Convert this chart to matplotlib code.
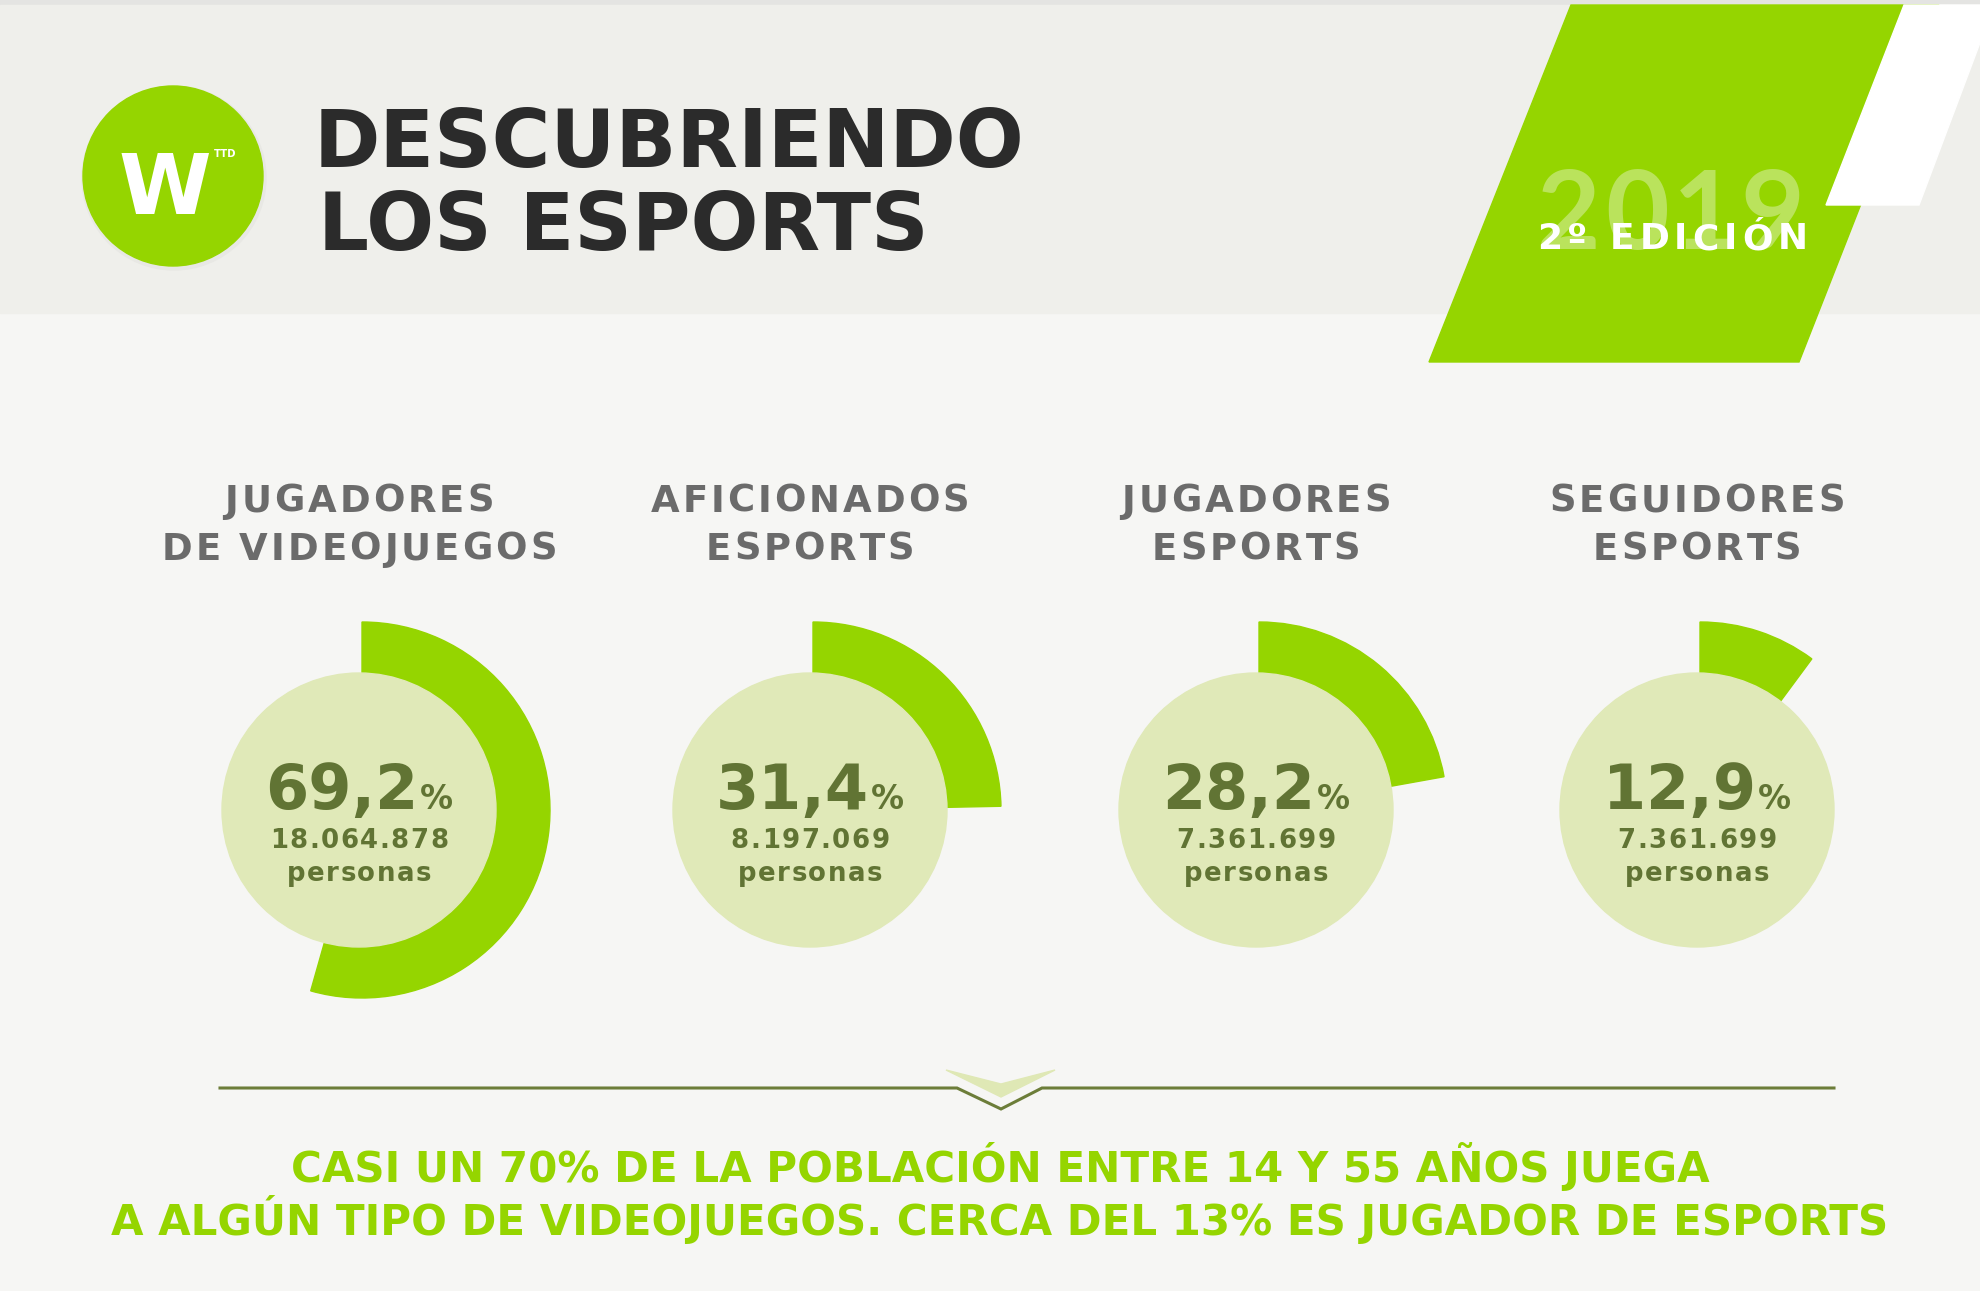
import matplotlib
matplotlib.use("Agg")
import matplotlib.pyplot as plt
from matplotlib.patches import Circle, Wedge, Polygon, Rectangle
from matplotlib.font_manager import FontProperties, findfont
from matplotlib.ft2font import FT2Font

# --- data -------------------------------------------------------------
titles = [["JUGADORES", "DE VIDEOJUEGOS"],
          ["AFICIONADOS", "ESPORTS"],
          ["JUGADORES", "ESPORTS"],
          ["SEGUIDORES", "ESPORTS"]]
percent = [69.2, 31.4, 28.2, 12.9]
people = [18064878, 8197069, 7361699, 7361699]
headline = ["CASI UN 70% DE LA POBLACIÓN ENTRE 14 Y 55 AÑOS JUEGA",
            "A ALGÚN TIPO DE VIDEOJUEGOS. CERCA DEL 13% ES JUGADOR DE ESPORTS"]
year = "2019"
edition = "2º EDICIÓN"

# the design draws 100% as ~283 degrees of arc
DEG_PER_PCT = 2.83

# --- colours ----------------------------------------------------------
GREEN = "#95d500"
PALE = "#e0e9b8"
OLIVE = "#617434"
BG = "#f6f6f4"
HEAD_BG = "#efefeb"

W, H, DPI = 1981, 1291, 100
PX = 72 / DPI  # points per pixel

fig = plt.figure(figsize=(W / DPI, H / DPI), dpi=DPI, facecolor=BG)
ax = fig.add_axes([0, 0, 1, 1])
ax.set_xlim(0, W)
ax.set_ylim(H, 0)
ax.axis("off")


def text_width(s, size_pt, family="DejaVu Sans", weight="bold"):
    f = FT2Font(findfont(FontProperties(family=family, weight=weight)))
    f.set_size(size_pt, 72)
    w = 0
    for ch in s:
        g = f.load_char(ord(ch))
        w += g.linearHoriAdvance / 65536
    return w / PX


def tracked(x, y, s, size_pt, track, color, ha="center",
            family="DejaVu Sans", weight="bold", **kw):
    widths = [text_width(ch, size_pt, family, weight) for ch in s]
    total = sum(widths) + track * (len(s) - 1)
    x0 = x - total / 2 if ha == "center" else x
    for ch, w in zip(s, widths):
        ax.text(x0 + w / 2, y, ch, ha="center", va="baseline", fontsize=size_pt,
                color=color, family=family, weight=weight, **kw)
        x0 += w + track


# --- header -----------------------------------------------------------
ax.add_patch(Rectangle((0, 0), W, 5, color="#e4e4e2", zorder=0))
ax.add_patch(Rectangle((0, 5), W, 308, color=HEAD_BG, zorder=0))

# logo
ax.add_patch(Circle((174, 178), 92, color="#e8e8e4", zorder=1))
ax.add_patch(Circle((173, 176), 90, color=GREEN, zorder=2))
ax.text(165, 214, "W", ha="center", va="baseline", fontsize=84 * PX,
        color="white", weight="bold", zorder=3)
ax.text(225, 157, "TTD", ha="center", va="baseline", fontsize=10 * PX,
        color="white", weight="bold", zorder=3)

ax.text(314, 167, "DESCUBRIENDO", ha="left", va="baseline", fontsize=80 * PX,
        color="#2b2b2b", weight="bold")
ax.text(318, 250, "LOS ESPORTS", ha="left", va="baseline", fontsize=80 * PX,
        color="#2b2b2b", weight="bold")

# edition block
ax.add_patch(Polygon([(1571, 5), (1939, 5), (1799, 362), (1429, 362)],
                     closed=True, color=GREEN, zorder=1))
ax.add_patch(Polygon([(1904, 5), (1981, 5), (1981, 40), (1919, 205), (1826, 205)],
                     closed=True, color="white", zorder=2))
tracked(1537, 249, year, 110 * PX, 4, "#bae35c", ha="left",
        family="Lato", zorder=3)
tracked(1537, 249, edition, 36 * PX, 5, "white", ha="left", zorder=4)

# --- four gauges ------------------------------------------------------
centers = [362, 813, 1259, 1700]
cy = 810
for cx, t, p, n in zip(centers, titles, percent, people):
    tracked(cx - 3, 512, t[0], 37 * PX, 3, "#6b6b6b")
    tracked(cx - 3, 560, t[1], 37 * PX, 3, "#6b6b6b")

    ax.add_patch(Wedge((cx, cy), 188, -90, -90 + p * DEG_PER_PCT,
                       color=GREEN, zorder=2))
    ax.add_patch(Circle((cx - 3, cy), 137, color=PALE, zorder=3))

    num = f"{p:.1f}".replace(".", ",")
    s_num, s_pct = 62 * PX, 33 * PX
    w_num = text_width(num, s_num)
    w_pct = text_width("%", s_pct)
    x0 = cx - 3 - (w_num + 2 + w_pct) / 2
    ax.text(x0, 809, num, ha="left", va="baseline", fontsize=s_num,
            color=OLIVE, weight="bold", zorder=4)
    ax.text(x0 + w_num + 2, 809, "%", ha="left", va="baseline", fontsize=s_pct,
            color=OLIVE, weight="bold", zorder=4)
    label = f"{n:,}".replace(",", ".")
    tracked(cx - 3, 848, label, 26 * PX, 1.5, OLIVE, zorder=4)
    tracked(cx - 3, 881, "personas", 26 * PX, 1.5, OLIVE, zorder=4)

# --- divider with chevron ---------------------------------------------
ax.add_patch(Polygon([(946, 1070), (1001, 1084), (1055, 1070), (1001, 1097)],
                     closed=True, color="#dfe8b5", zorder=1))
ax.plot([220, 957, 1001, 1042, 1834], [1088, 1088, 1109, 1088, 1088],
        color="#6c7d39", lw=2.2, solid_joinstyle="miter", zorder=2)

# --- headline ---------------------------------------------------------
ax.text(1000, 1182, headline[0], ha="center", va="baseline", fontsize=42 * PX,
        color=GREEN, weight="bold")
ax.text(1000, 1235, headline[1], ha="center", va="baseline", fontsize=42 * PX,
        color=GREEN, weight="bold")

fig.savefig("out.png", dpi=DPI, facecolor=BG)
